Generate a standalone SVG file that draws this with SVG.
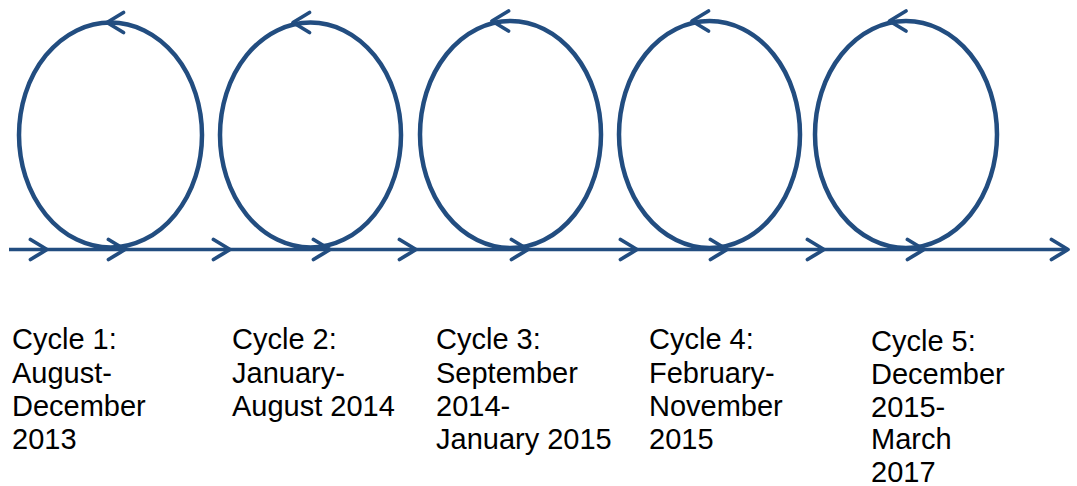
<svg xmlns="http://www.w3.org/2000/svg" xmlns:xlink="http://www.w3.org/1999/xlink" width="1077" height="486" viewBox="0 0 1077 486">
  <style>
    .loop { fill: none; stroke: #224D80; stroke-width: 4.5; }
    .axis { fill: none; stroke: #224D80; stroke-width: 3.4; }
    .chev { fill: none; stroke: #224D80; stroke-width: 3.8; stroke-linecap: round; stroke-linejoin: round; }
    .label { font-family: "Liberation Sans", Arial, sans-serif; font-size: 29px; fill: #000000; }
  </style>
  <defs>
    <!-- open chevron, tip at the origin, pointing right -->
    <path id="chev" class="chev" d="M-16.5,-10 L0,0 L-16.5,10"/>
  </defs>

  <!-- timeline with direction chevrons -->
  <g id="connectors">
    <line class="axis" x1="9" y1="249.5" x2="1067" y2="249.5"/>
    <use xlink:href="#chev" transform="translate(47,249.5)"/>
    <use xlink:href="#chev" transform="translate(125,249.5)"/>
    <use xlink:href="#chev" transform="translate(230,249.5)"/>
    <use xlink:href="#chev" transform="translate(330,249.5)"/>
    <use xlink:href="#chev" transform="translate(416,249.5)"/>
    <use xlink:href="#chev" transform="translate(528,249.5)"/>
    <use xlink:href="#chev" transform="translate(637,249.5)"/>
    <use xlink:href="#chev" transform="translate(727,249.5)"/>
    <use xlink:href="#chev" transform="translate(824,249.5)"/>
    <use xlink:href="#chev" transform="translate(924,249.5)"/>
    <use xlink:href="#chev" transform="translate(1068,249.5)"/>
  </g>

  <!-- cycle 1 -->
  <g id="cycle1">
    <ellipse class="loop" cx="110.5" cy="135" rx="91.5" ry="112.5"/>
    <use xlink:href="#chev" transform="translate(107,22.5) scale(-1,1)"/>
    <text class="label">
      <tspan x="12" y="349">Cycle 1:</tspan>
      <tspan x="12" y="382.5">August-</tspan>
      <tspan x="12" y="415.5">December</tspan>
      <tspan x="12" y="449">2013</tspan>
    </text>
  </g>

  <!-- cycle 2 -->
  <g id="cycle2">
    <ellipse class="loop" cx="310.5" cy="135" rx="90.5" ry="112.5"/>
    <use xlink:href="#chev" transform="translate(293,22.5) scale(-1,1)"/>
    <text class="label">
      <tspan x="232" y="349">Cycle 2:</tspan>
      <tspan x="232" y="382.5">January-</tspan>
      <tspan x="232" y="415.5">August 2014</tspan>
    </text>
  </g>

  <!-- cycle 3 -->
  <g id="cycle3">
    <ellipse class="loop" cx="510.5" cy="134.5" rx="90.5" ry="113.5"/>
    <use xlink:href="#chev" transform="translate(492,21) scale(-1,1)"/>
    <text class="label">
      <tspan x="436" y="349">Cycle 3:</tspan>
      <tspan x="436" y="382.5">September</tspan>
      <tspan x="436" y="415.5">2014-</tspan>
      <tspan x="436" y="449">January 2015</tspan>
    </text>
  </g>

  <!-- cycle 4 -->
  <g id="cycle4">
    <ellipse class="loop" cx="709.5" cy="134.5" rx="90.5" ry="113.5"/>
    <use xlink:href="#chev" transform="translate(692,21) scale(-1,1)"/>
    <text class="label">
      <tspan x="649" y="349">Cycle 4:</tspan>
      <tspan x="649" y="382.5">February-</tspan>
      <tspan x="649" y="415.5">November</tspan>
      <tspan x="649" y="449">2015</tspan>
    </text>
  </g>

  <!-- cycle 5 -->
  <g id="cycle5">
    <ellipse class="loop" cx="906" cy="134.5" rx="91" ry="113.5"/>
    <use xlink:href="#chev" transform="translate(889.5,21) scale(-1,1)"/>
    <text class="label">
      <tspan x="871" y="350.5">Cycle 5:</tspan>
      <tspan x="871" y="383.5">December</tspan>
      <tspan x="871" y="416.5">2015-</tspan>
      <tspan x="871" y="449">March</tspan>
      <tspan x="871" y="481.5">2017</tspan>
    </text>
  </g>
</svg>
